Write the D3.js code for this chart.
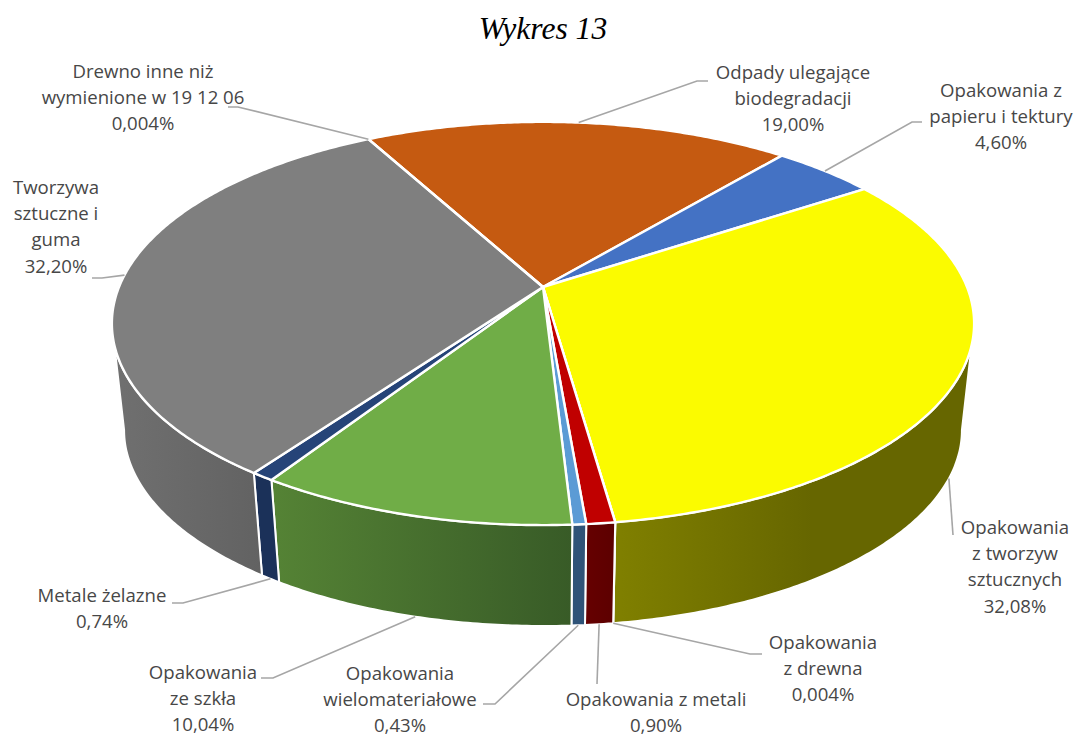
<!DOCTYPE html>
<html>
<head>
<meta charset="utf-8">
<script src="https://cdn.jsdelivr.net/npm/d3@7"></script>
<style>
  html, body { margin: 0; background: #fff; }
  svg { display: block; }
  .title { font-family: "Liberation Serif", serif; font-style: italic; font-size: 31.6px; fill: #000; }
  .label { font-family: "Open Sans", sans-serif; font-size: 18.6px; fill: #474747; }
</style>
</head>
<body>
<div id="svg"></div>
<script>
// clockwise from the orange slice
const categories = [
    ["Odpady ulegające", "biodegradacji"],
    ["Opakowania z", "papieru i tektury"],
    ["Opakowania", "z tworzyw", "sztucznych"],
    ["Opakowania", "z drewna"],
    ["Opakowania z metali"],
    ["Opakowania", "wielomateriałowe"],
    ["Opakowania", "ze szkła"],
    ["Metale żelazne"],
    ["Tworzywa", "sztuczne i", "guma"],
    ["Drewno inne niż", "wymienione w 19 12 06"]
];
const values = [19.00, 4.60, 32.08, 0.004, 0.90, 0.43, 10.04, 0.74, 32.20, 0.004];

const sliceColors = ["#c55a11", "#4472c4", "#fbfb00", "#843c0c", "#c00000", "#5b9bd5", "#70ad47", "#264478", "#7f7f7f", "#636363"];
const wallLeft = ["#c55a11", "#4472c4", "#808000", "#4f2409", "#660000", "#2f5378", "#558335", "#1b3159", "#707070", "#636363"];
const wallRight = ["#c55a11", "#4472c4", "#666600", "#4f2409", "#5c0000", "#2f5378", "#385b27", "#1b3159", "#626262", "#636363"];
// how far across the wall the gradient runs
const wallFade = [1, 1, 0.55, 1, 1, 1, 1, 1, 1, 1];

// label placement: centre x, first line y, and the leader line from the slice to the label
const labelX = [793, 1001, 1015, 823, 656, 400, 203, 102, 56, 143];
const labelY = [72, 90, 527, 642, 699, 673, 672, 595, 187, 71];
const leaderRing = ["top", "top", "bottom", "bottom", "bottom", "bottom", "bottom", "bottom", "top", "top"];
const leaderPath = [
    [[697, 81], [708, 81]],
    [[912, 122], [922, 122]],
    [[953, 535]],
    [[750, 654], [762, 654]],
    [[597, 684]],
    [[495, 704], [483, 704]],
    [[273, 678], [261, 678]],
    [[183, 603], [172, 603]],
    [[102, 278], [92, 278]],
    [[238, 107], [228, 107]]
];

function makeGraph() {
    let w = 1074, h = 738;
    let svg = d3.select('#svg').append('svg').attr('width', w).attr('height', h);
    let defs = svg.append('defs');

    // pie seen in perspective, so the centre sits above the middle of the ellipse
    const cx = 543, cy = 287, tilt = 0.181;
    const ringTop = { a: 424, b: 195, y0: cy };
    const ringBottom = { a: 412, b: 189.5, y0: 394.6 };

    function project(ring, angle) {
        let X = Math.sin(angle), Y = -Math.cos(angle);
        let d = 1 - tilt * Y;
        return [cx + ring.a * X / d, ring.y0 + ring.b * Y / d];
    }
    function arcPoints(ring, a0, a1) {
        let n = Math.max(2, Math.ceil(Math.abs(a1 - a0) / 0.01));
        return d3.range(n + 1).map(i => project(ring, a0 + (a1 - a0) * i / n));
    }

    let pie = d3.pie().sort(null).value(d => d)
        .startAngle(-28.5 * Math.PI / 180)
        .endAngle((360 - 28.5) * Math.PI / 180);
    let arcs = pie(values);
    let line = d3.line();

    // only the part of the rim facing the viewer gets a wall
    const edge = Math.acos(-tilt);
    let walls = arcs.map((d, i) => ({
        i,
        a0: Math.max(d.startAngle, edge),
        a1: Math.min(d.endAngle, 2 * Math.PI - edge)
    })).filter(d => d.a1 > d.a0);

    walls.forEach(d => {
        let pts = arcPoints(ringTop, d.a0, d.a1).concat(arcPoints(ringBottom, d.a1, d.a0));
        d.path = line(pts) + 'Z';
        let xs = d3.extent(pts, p => p[0]);
        let grad = defs.append('linearGradient')
            .attr('id', 'wall' + d.i)
            .attr('gradientUnits', 'userSpaceOnUse')
            .attr('x1', xs[0]).attr('x2', xs[0] + (xs[1] - xs[0]) * wallFade[d.i])
            .attr('y1', 0).attr('y2', 0);
        grad.append('stop').attr('offset', 0).attr('stop-color', wallLeft[d.i]);
        grad.append('stop').attr('offset', 1).attr('stop-color', wallRight[d.i]);
    });

    svg.append('g').selectAll('path')
        .data(walls)
        .enter()
        .append('path')
        .attr('d', d => d.path)
        .attr('fill', d => `url(#wall${d.i})`)
        .attr('stroke', '#fff')
        .attr('stroke-width', 2)
        .attr('stroke-linejoin', 'round');

    svg.append('g').selectAll('path')
        .data(arcs)
        .enter()
        .append('path')
        .attr('d', d => line([[cx, cy]].concat(arcPoints(ringTop, d.startAngle, d.endAngle))) + 'Z')
        .attr('fill', (d, i) => sliceColors[i])
        .attr('stroke', '#fff')
        .attr('stroke-width', 2.4)
        .attr('stroke-linejoin', 'round');

    // leader lines start at the middle of their slice
    svg.append('g').selectAll('path')
        .data(arcs)
        .enter()
        .append('path')
        .attr('d', (d, i) => {
            let ring = leaderRing[i] == 'top' ? ringTop : ringBottom;
            return line([project(ring, (d.startAngle + d.endAngle) / 2)].concat(leaderPath[i]));
        })
        .attr('fill', 'none')
        .attr('stroke', '#a6a6a6')
        .attr('stroke-width', 1.6);

    let format = v => (v < 0.01 ? v.toFixed(3) : v.toFixed(2)).replace('.', ',') + '%';

    let labels = svg.append('g').selectAll('text')
        .data(categories)
        .enter()
        .append('text')
        .classed('label', true)
        .attr('text-anchor', 'middle');

    labels.selectAll('tspan')
        .data((d, i) => d.concat(format(values[i])).map(t => ({ t, i })))
        .enter()
        .append('tspan')
        .attr('x', d => labelX[d.i])
        .attr('y', (d, j) => labelY[d.i] + j * 26.4)
        .attr('dy', '0.35em')
        .text(d => d.t);

    svg.append('text')
        .classed('title', true)
        .attr('x', 543)
        .attr('y', 39)
        .attr('text-anchor', 'middle')
        .text('Wykres 13');
}

window.onload = () => {
    makeGraph();
}
</script>
</body>
</html>
